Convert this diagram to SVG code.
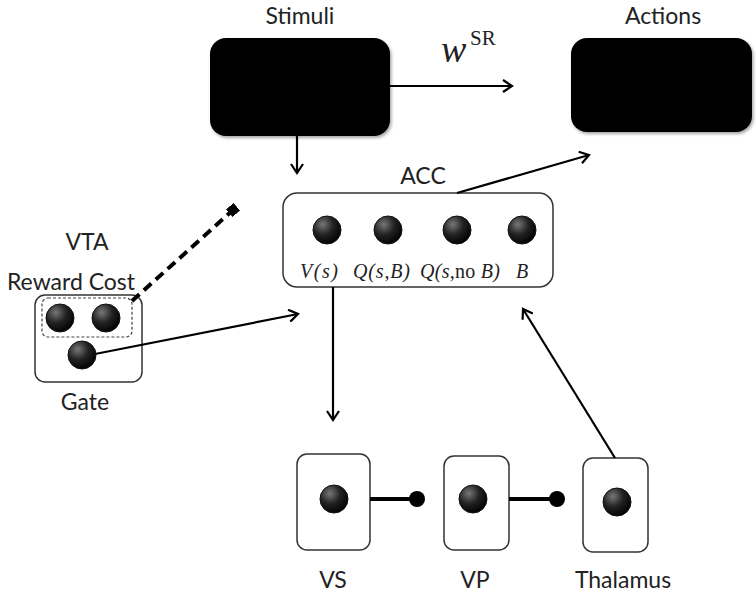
<svg xmlns="http://www.w3.org/2000/svg" width="756" height="597" viewBox="0 0 756 597">
<style>
.lbl{font-family:Lato,"Open Sans","Liberation Sans",sans-serif;font-size:23px;fill:#222;text-anchor:middle}
.math{font-family:"Liberation Serif","Times New Roman",serif;font-style:italic;font-size:20px;fill:#222}
.box{fill:#fff;stroke:#333;stroke-width:1.5}
.blk{fill:#000}
.ln{stroke:#000;stroke-width:2.2;fill:none}
.thick{stroke:#000;stroke-width:4;fill:none}
.dot{stroke:#111}
</style>
<defs>
<radialGradient id="g" cx="0.35" cy="0.3" r="0.75">
<stop offset="0" stop-color="#777"/>
<stop offset="0.5" stop-color="#222"/>
<stop offset="1" stop-color="#000"/>
</radialGradient>
<marker id="ah" markerWidth="14" markerHeight="14" refX="11" refY="7" orient="auto" markerUnits="userSpaceOnUse">
<path d="M2,1 L11,7 L2,13" fill="none" stroke="#000" stroke-width="2.2"/>
</marker>
<marker id="sq" markerWidth="10" markerHeight="10" refX="5" refY="5" orient="auto" markerUnits="userSpaceOnUse">
<rect x="0" y="0" width="10" height="10" fill="#000"/>
</marker>
<filter id="sh" x="-10%" y="-10%" width="125%" height="125%">
<feDropShadow dx="1.5" dy="2" stdDeviation="1.5" flood-color="#000" flood-opacity="0.35"/>
</filter>
</defs>

<g id="stimuli">
<rect class="blk" x="210" y="38" width="180" height="98" rx="16" filter="url(#sh)"/>
<text class="lbl" x="300" y="24">Stimuli</text>
</g>

<g id="wsr">
<text x="441" y="62" font-family="'Liberation Serif','Times New Roman',serif" font-style="italic" font-size="38" fill="#222">w</text>
<text x="470" y="45" font-family="'Liberation Serif','Times New Roman',serif" font-size="21" fill="#222">SR</text>
</g>

<g id="actions">
<rect class="blk" x="571" y="38" width="181" height="94" rx="16" filter="url(#sh)"/>
<text class="lbl" x="663" y="24">Actions</text>
</g>

<g id="acc">
<rect class="box" x="283" y="193" width="270" height="94" rx="14"/>
<text class="lbl" x="423" y="184">ACC</text>
<circle class="dot" cx="327" cy="230" r="14" fill="url(#g)"/>
<circle class="dot" cx="388" cy="230" r="14" fill="url(#g)"/>
<circle class="dot" cx="457" cy="230" r="14" fill="url(#g)"/>
<circle class="dot" cx="522" cy="230" r="14" fill="url(#g)"/>
<text class="math" x="300" y="278" textLength="38" lengthAdjust="spacing">V(s)</text>
<text class="math" x="353" y="278" textLength="57" lengthAdjust="spacing">Q(s,B)</text>
<text class="math" x="420" y="278" textLength="80" lengthAdjust="spacing">Q(s,<tspan font-style="normal">no</tspan> B)</text>
<text class="math" x="516" y="278">B</text>
</g>

<g id="vta">
<text class="lbl" x="87" y="250">VTA</text>
<text class="lbl" x="71" y="290">Reward Cost</text>
<rect class="box" x="35" y="295" width="107" height="87" rx="10"/>
<rect x="42" y="298" width="90" height="39" rx="6" fill="none" stroke="#444" stroke-width="1.2" stroke-dasharray="3,2"/>
<circle class="dot" cx="60" cy="318" r="14" fill="url(#g)"/>
<circle class="dot" cx="106" cy="318" r="14" fill="url(#g)"/>
<text class="lbl" x="85" y="410">Gate</text>
</g>

<g id="vs">
<rect class="box" x="297" y="454" width="73" height="96" rx="10"/>
<circle class="dot" cx="334" cy="499" r="14" fill="url(#g)"/>
<text class="lbl" x="333" y="588">VS</text>
</g>

<g id="vp">
<rect class="box" x="444" y="456" width="65" height="94" rx="10"/>
<circle class="dot" cx="473" cy="499" r="14" fill="url(#g)"/>
<text class="lbl" x="475" y="588">VP</text>
</g>

<g id="thalamus">
<rect class="box" x="583" y="458" width="65" height="94" rx="10"/>
<circle class="dot" cx="617" cy="502" r="14" fill="url(#g)"/>
<text class="lbl" x="623" y="588">Thalamus</text>
</g>

<g id="connectors">
<line class="ln" x1="390" y1="86" x2="512" y2="86" marker-end="url(#ah)"/>
<line class="ln" x1="297" y1="136" x2="297" y2="173" marker-end="url(#ah)"/>
<line class="ln" x1="457" y1="193" x2="589" y2="155" marker-end="url(#ah)"/>
<line class="ln" x1="333" y1="287" x2="333" y2="420" marker-end="url(#ah)"/>
<line class="ln" x1="95" y1="354" x2="298" y2="314" marker-end="url(#ah)"/>
<line class="ln" x1="615" y1="458" x2="523" y2="309" marker-end="url(#ah)"/>
<line stroke="#000" stroke-width="4" stroke-dasharray="10,6" x1="132" y1="301" x2="233" y2="210" marker-end="url(#sq)"/>
<line class="thick" x1="370" y1="499" x2="417" y2="499"/>
<circle cx="417" cy="499" r="8" fill="#000"/>
<line class="thick" x1="509" y1="499" x2="557" y2="499"/>
<circle cx="557" cy="499" r="8" fill="#000"/>
</g>

<g id="gate">
<circle class="dot" cx="82" cy="355" r="14" fill="url(#g)"/>
</g>
</svg>
